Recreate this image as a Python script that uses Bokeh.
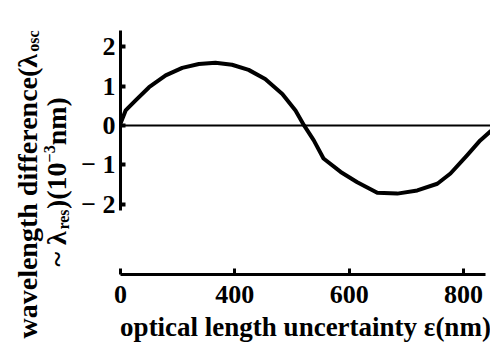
import math
from bokeh.plotting import figure
from bokeh.layouts import row, column
from bokeh.models import Range1d, FixedTicker, Span, Label
from bokeh.embed import file_html
from bokeh.resources import INLINE

# ---- data ----
eps_nm = [200, 209, 226, 250, 279, 308, 337, 366, 395, 424, 453, 483, 506, 521,
          538, 555, 585, 614, 649, 684, 719, 754, 777, 806, 829, 847]
wl_diff = [0.05, 0.38, 0.63, 0.97, 1.27, 1.46, 1.56, 1.59, 1.54, 1.41, 1.18, 0.80, 0.38, 0.0,
           -0.38, -0.84, -1.18, -1.44, -1.71, -1.73, -1.65, -1.48, -1.22, -0.76, -0.38, -0.15]
x_ticks = [200, 400, 600, 800]
x_tick_labels = ["0", "400", "600", "800"]
y_ticks = [-2, -1, 0, 1, 2]
y_tick_labels = ["− 2", "− 1", "0", "1", "2"]

FONT = "Liberation Serif"
H = 344
STRIP_W = 72
MAIN_W = 418
MAIN_H = 266
AXIS_H = H - MAIN_H

xr = Range1d(200, 847)

# ---- main plot (curve + y axis) ----
p = figure(width=MAIN_W, height=MAIN_H, output_backend="svg", toolbar_location=None,
           x_range=xr, y_range=Range1d(-3.58, 2.46), x_axis_location=None,
           min_border_left=48, min_border_right=0, min_border_top=28, min_border_bottom=0)
p.outline_line_color = None
p.grid.visible = False
p.background_fill_color = "white"
p.border_fill_color = "white"

p.add_layout(Span(location=0, dimension="width", line_color="black", line_width=2))
p.line(eps_nm, wl_diff, line_color="black", line_width=4, line_join="round", line_cap="round")

ya = p.yaxis[0]
ya.ticker = FixedTicker(ticks=y_ticks)
ya.major_label_overrides = {t: l for t, l in zip(y_ticks, y_tick_labels)}
ya.bounds = (-2.15, 2.42)
ya.axis_line_width = 3
ya.major_tick_in = 5
ya.major_tick_out = 0
ya.major_tick_line_width = 4
ya.minor_tick_line_color = None
ya.major_label_standoff = 5
ya.major_label_text_font = FONT
ya.major_label_text_font_style = "bold"
ya.major_label_text_font_size = "26px"
ya.major_label_text_color = "black"

# ---- x axis, in a thin figure sharing the x range ----
a = figure(width=MAIN_W, height=AXIS_H, output_backend="svg", toolbar_location=None,
           x_range=xr, y_range=Range1d(0, 1), y_axis_type=None,
           min_border_left=48, min_border_right=0, min_border_top=0, min_border_bottom=0)
a.outline_line_color = None
a.grid.visible = False
a.background_fill_color = "white"
a.border_fill_color = "white"

xa = a.xaxis[0]
xa.ticker = FixedTicker(ticks=x_ticks)
xa.major_label_overrides = {t: l for t, l in zip(x_ticks, x_tick_labels)}
xa.bounds = (200, 838)
xa.axis_line_width = 3
xa.major_tick_in = 6
xa.major_tick_out = 0
xa.major_tick_line_width = 3
xa.minor_tick_line_color = None
xa.major_label_standoff = 11
xa.major_label_text_font = FONT
xa.major_label_text_font_style = "bold"
xa.major_label_text_font_size = "26px"
xa.major_label_text_color = "black"
xa.axis_label = "optical length uncertainty ε(nm)"
xa.axis_label_text_font = FONT
xa.axis_label_text_font_style = "bold"
xa.axis_label_text_font_size = "27px"
xa.axis_label_standoff = 6
xa.axis_label_text_color = "black"

# ---- left strip holding the rotated y title (pixel coordinates, y from top) ----
t = figure(width=STRIP_W, height=H, output_backend="svg", toolbar_location=None,
           x_range=Range1d(0, STRIP_W), y_range=Range1d(H, 0),
           x_axis_type=None, y_axis_type=None, min_border=0)
t.outline_line_color = None
t.background_fill_color = "white"
t.border_fill_color = "white"

def piece(text, px, py, size):
    t.add_layout(Label(x=px, y=py, text=text, angle=math.pi / 2,
                       text_align="left", text_baseline="middle",
                       text_font=FONT, text_font_style="bold",
                       text_font_size=f"{size}px", text_color="black"))

BIG, SMALL = 28, 16
# line 1
y0 = 338
piece("wavelength difference(λ", 27, y0, BIG)
y0 -= 10.24 * BIG
piece("osc", 33, y0, SMALL)
# line 2
y1 = 266
piece("~ λ", 56, y1, BIG)
y1 -= 1.32 * BIG
piece("res", 63, y1, SMALL)
y1 -= 1.277 * SMALL
piece(")(10", 56, y1, BIG)
y1 -= 1.666 * BIG
piece("−3", 49, y1, SMALL)
y1 -= 1.07 * SMALL
piece(" nm)", 56, y1, BIG)

layout = row(t, column(p, a))
open("out.html", "w").write(file_html(layout, INLINE))
